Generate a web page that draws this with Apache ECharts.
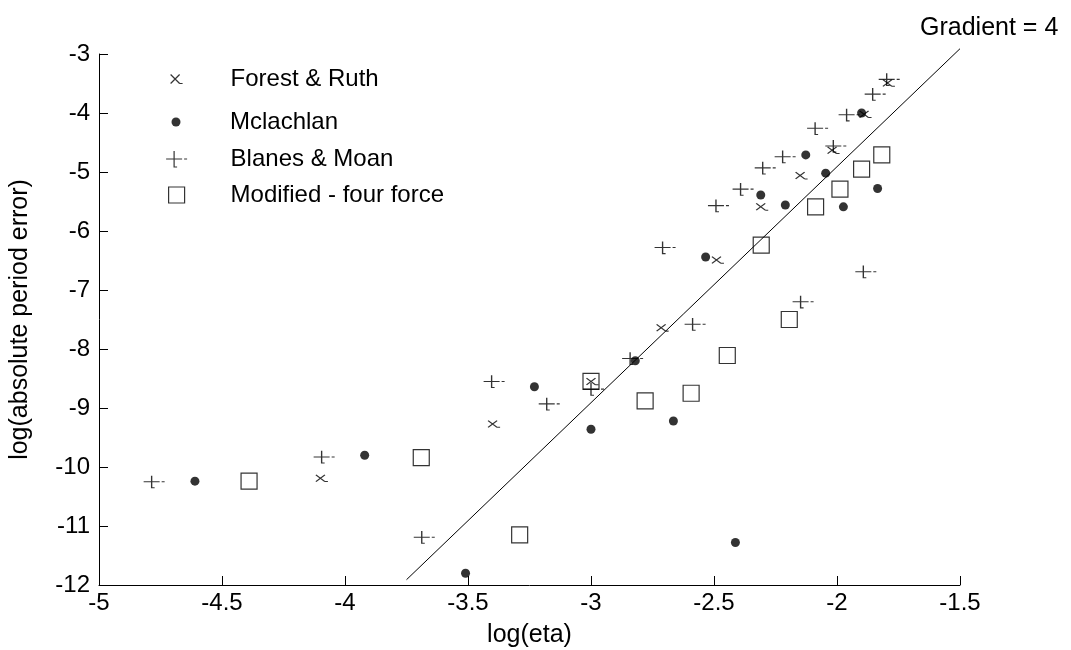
<!DOCTYPE html>
<html>
<head>
<meta charset="utf-8">
<script src="https://cdn.jsdelivr.net/npm/echarts@6/dist/echarts.min.js"></script>
<style>
  html, body { margin: 0; padding: 0; background: #fff; }
  #chart { width: 1071px; height: 650px; }
</style>
</head>
<body>
<div id="chart"></div>
<script>
// log(eta) vs log(absolute period error) for four integrators
const forestRuth = [
  [-4.10, -10.19], [-3.40, -9.27], [-3.00, -8.55], [-2.715, -7.64], [-2.49, -6.49],
  [-2.31, -5.59], [-2.15, -5.06], [-2.02, -4.63], [-1.89, -4.02], [-1.795, -3.49]
];
const mclachlan = [
  [-4.61, -10.24], [-3.92, -9.80], [-3.51, -11.80], [-3.23, -8.64], [-3.00, -9.36],
  [-2.82, -8.20], [-2.665, -9.22], [-2.534, -6.44], [-2.413, -11.28], [-2.31, -5.39],
  [-2.21, -5.56], [-2.127, -4.71], [-2.046, -5.02], [-1.974, -5.59], [-1.90, -4.00],
  [-1.835, -5.28]
];
const blanesMoan = [
  [-4.786, -10.25], [-4.095, -9.83], [-3.688, -11.19], [-3.404, -8.55], [-3.18, -8.93],
  [-3.00, -8.68], [-2.841, -8.16], [-2.709, -6.28], [-2.587, -7.58], [-2.492, -5.57],
  [-2.392, -5.29], [-2.302, -4.93], [-2.221, -4.74], [-2.148, -7.20], [-2.089, -4.26],
  [-2.015, -4.56], [-1.961, -4.03], [-1.893, -6.69], [-1.855, -3.68], [-1.798, -3.43]
];
const modifiedFourForce = [
  [-4.39, -10.24], [-3.69, -9.84], [-3.29, -11.15], [-3.00, -8.55], [-2.78, -8.88],
  [-2.593, -8.75], [-2.446, -8.11], [-2.308, -6.24], [-2.194, -7.50], [-2.087, -5.59],
  [-1.988, -5.29], [-1.90, -4.95], [-1.818, -4.71]
];
// reference line of slope 4
const gradientLine = [[-3.75, -11.91], [-1.5, -2.91]];

const seriesNames = ['Forest & Ruth', 'Mclachlan', 'Blanes & Moan', 'Modified - four force'];
const gradientText = 'Gradient = 4';
const xLabel = 'log(eta)';
const yLabel = 'log(absolute period error)';

const FONT = 'Liberation Sans, Arial, Helvetica, sans-serif';

// marker outlines (open line paths, stroked only)
const crossPath = 'path://M0,0L9,9M9,0L0,9M9,9L12,9';
const plusPath = 'path://M0,8L16,8M18,8L21,8M8,0L8,16L11,16';
const squarePath = 'path://M0,0L16,0L16,16L0,16Z';

const strokeStyle = { color: 'rgba(0,0,0,0)', borderColor: '#000', borderWidth: 1.2 };

// one legend block per row; the icon's left edge sits at `left`,
// so rows are shifted by half their icon width to share one centre line
function legendRow(name, left, top, iconSize, style) {
  return {
    data: [name],
    orient: 'vertical',
    left: left,
    top: top,
    padding: 0,
    itemWidth: 98,
    itemHeight: iconSize,
    selectedMode: false,
    symbolKeepAspect: true,
    itemStyle: style,
    textStyle: { fontFamily: FONT, fontSize: 24, color: '#000', lineHeight: 24 }
  };
}

const chart = echarts.init(document.getElementById('chart'), null, { renderer: 'canvas' });

chart.setOption({
  animation: false,
  backgroundColor: '#fff',
  grid: { left: 99, right: 111, top: 54, bottom: 65, containLabel: false, outerBoundsMode: 'none' },
  legend: [
    legendRow(seriesNames[0], 170, 67, 9, strokeStyle),
    legendRow(seriesNames[1], 171.5, 110, 9, { color: '#000', borderWidth: 0 }),
    legendRow(seriesNames[2], 165.5, 147, 16, strokeStyle),
    legendRow(seriesNames[3], 168, 183, 16, strokeStyle)
  ],
  xAxis: {
    type: 'value',
    min: -5, max: -1.5, interval: 0.5,
    name: xLabel,
    nameLocation: 'middle',
    nameGap: 38,
    nameTextStyle: { fontFamily: FONT, fontSize: 25, color: '#000' },
    axisLine: { show: true, onZero: false, lineStyle: { color: '#000', width: 1 } },
    axisTick: { show: true, inside: true, length: 9, lineStyle: { color: '#000', width: 1 } },
    axisLabel: { fontFamily: FONT, fontSize: 24, color: '#000', margin: 6 },
    splitLine: { show: false }
  },
  yAxis: {
    type: 'value',
    min: -12, max: -3, interval: 1,
    name: yLabel,
    nameLocation: 'middle',
    nameGap: 66,
    nameTextStyle: { fontFamily: FONT, fontSize: 25, color: '#000' },
    axisLine: { show: true, onZero: false, lineStyle: { color: '#000', width: 1 } },
    axisTick: { show: true, inside: true, length: 9, lineStyle: { color: '#000', width: 1 } },
    axisLabel: { fontFamily: FONT, fontSize: 24, color: '#000', margin: 9, padding: [0, 0, 8, 0] },
    splitLine: { show: false }
  },
  series: [
    {
      name: 'gradient',
      type: 'line',
      data: gradientLine,
      symbol: 'none',
      clip: false,
      silent: true,
      lineStyle: { color: '#000', width: 1 },
      endLabel: {
        show: true,
        formatter: gradientText,
        fontFamily: FONT,
        fontSize: 25,
        color: '#000',
        offset: [-48, -21]
      },
      z: 1
    },
    {
      name: seriesNames[0],
      type: 'scatter',
      data: forestRuth,
      symbol: crossPath,
      symbolSize: [12, 9],
      symbolOffset: [1.5, 0],
      symbolKeepAspect: true,
      itemStyle: strokeStyle,
      z: 3
    },
    {
      name: seriesNames[1],
      type: 'scatter',
      data: mclachlan,
      symbol: 'circle',
      symbolSize: 9,
      itemStyle: { color: '#000' },
      z: 3
    },
    {
      name: seriesNames[2],
      type: 'scatter',
      data: blanesMoan,
      symbol: plusPath,
      symbolSize: [21, 16],
      symbolOffset: [2.5, 0],
      symbolKeepAspect: true,
      itemStyle: strokeStyle,
      z: 3
    },
    {
      name: seriesNames[3],
      type: 'scatter',
      data: modifiedFourForce,
      symbol: squarePath,
      symbolSize: 16,
      symbolKeepAspect: true,
      itemStyle: strokeStyle,
      z: 3
    }
  ]
});
</script>
</body>
</html>
